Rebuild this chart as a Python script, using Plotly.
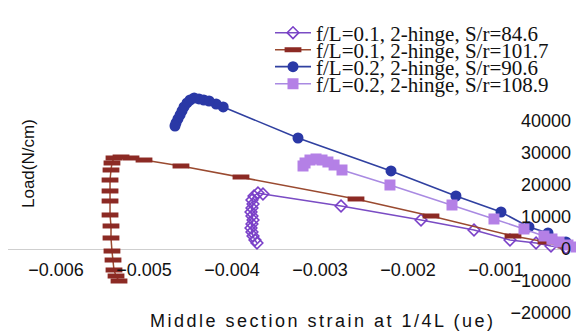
import plotly.graph_objects as go

# ---- data: strain at 1/4L (x) and load in N/cm (y) ----
names = [
    "f/L=0.1, 2-hinge, S/r=84.6",
    "f/L=0.1, 2-hinge, S/r=101.7",
    "f/L=0.2, 2-hinge, S/r=90.6",
    "f/L=0.2, 2-hinge, S/r=108.9",
]

s1_x = [0, -0.000205, -0.000375, -0.000545, -0.000841, -0.00125, -0.001852, -0.002761,
        -0.003648, -0.003705, -0.00375, -0.003773, -0.003761, -0.003773, -0.003784,
        -0.003773, -0.003761, -0.003773, -0.003784, -0.003773, -0.003761, -0.003739, -0.003716]
s1_y = [0, 310, 940, 1880, 2810, 5940, 9060, 13440, 17190, 17500, 16560, 15310, 14060,
        12810, 11560, 10310, 9060, 7810, 6560, 5310, 4060, 2810, 1880]

s2_x = [0, -0.000205, -0.000432, -0.000807, -0.001739, -0.002591, -0.003898, -0.00458,
        -0.005, -0.005148, -0.005261, -0.005341, -0.005364, -0.005375, -0.005386,
        -0.005386, -0.005386, -0.005386, -0.005375, -0.005375, -0.005364, -0.005352,
        -0.005341, -0.005318, -0.005284]
s2_y = [0, 940, 2190, 4060, 10310, 15630, 22500, 25940, 27810, 28440, 28750, 28440, 26880,
        24690, 21560, 18130, 15000, 10630, 7190, 3440, -630, -3440, -6560, -8440, -10000]

s3_x = [0, -0.000205, -0.000409, -0.000625, -0.000943, -0.001455, -0.002193, -0.00325,
        -0.0041, -0.00418, -0.00426, -0.00432, -0.004375, -0.00443, -0.004477, -0.004511,
        -0.004545, -0.004568, -0.00459, -0.004614, -0.004636, -0.004648]
s3_y = [0, 2190, 5000, 6880, 11560, 16560, 24380, 34690, 44380, 45310, 46250, 46560, 46880,
        47190, 46560, 45630, 44380, 43130, 41880, 40630, 39380, 38440]

s4_x = [0, -0.0000909, -0.000182, -0.000284, -0.000364, -0.000455, -0.000682, -0.001023,
        -0.0015, -0.002205, -0.00275, -0.00284, -0.00291, -0.002977, -0.003045, -0.003114,
        -0.00317, -0.003193]
s4_y = [0, 625, 1250, 2190, 3130, 4060, 6250, 9380, 13750, 20000, 24690, 26250, 27190,
        27810, 28130, 27810, 26880, 25940]

x_tick_vals = [-0.006, -0.005, -0.004, -0.003, -0.002, -0.001, 0]
x_tick_text = ["\u22120.006", "\u22120.005", "\u22120.004", "\u22120.003", "\u22120.002", "\u22120.001", "0"]
y_tick_vals = [-20000, -10000, 0, 10000, 20000, 30000, 40000]
y_tick_text = ["\u221220000", "\u221210000", "0", "10000", "20000", "30000", "40000"]

x_title = "Middle section strain at 1/4L (ue)"
y_title = "Load(N/cm)"

W, H = 584, 334
ZERO_PX = 241      # pixel row of load = 0
ZERO_X_PX = 576    # pixel column of strain = 0
PX_PER_N = 0.0032  # pixels per N/cm
PX_PER_STRAIN = 88000.0
LEG_ROWS = [25, 42, 59, 76]  # legend row centres (px from top)

styles = [
    dict(line=dict(color="#7a4cc4", width=1.5),
         marker=dict(symbol="diamond-open", size=9, color="#7a40c8",
                     line=dict(width=1.6, color="#7a40c8"))),
    dict(line=dict(color="#9a4a30", width=1.5),
         marker=dict(symbol="line-ew", size=12, color="#8c2a24",
                     line=dict(width=5, color="#8c2a24"))),
    dict(line=dict(color="#3040a0", width=1.6),
         marker=dict(symbol="circle", size=11, color="#2a38a6")),
    dict(line=dict(color="#a98ae2", width=1.5),
         marker=dict(symbol="square", size=11, color="#b480e6")),
]
series = [(s1_x, s1_y), (s2_x, s2_y), (s3_x, s3_y), (s4_x, s4_y)]
legend_ids = ["legend", "legend2", "legend3", "legend4"]

fig = go.Figure()
for (xs, ys), nm, st, lid in zip(series, names, styles, legend_ids):
    fig.add_trace(go.Scatter(x=xs, y=ys, name=nm, mode="lines+markers",
                             legend=lid, **st))

x0 = -ZERO_X_PX / PX_PER_STRAIN
x1 = (W - ZERO_X_PX) / PX_PER_STRAIN
y_top = ZERO_PX / PX_PER_N
y_bot = -(H - ZERO_PX) / PX_PER_N

legend_common = dict(
    x=262 / W, xanchor="left", yanchor="middle",
    bgcolor="rgba(0,0,0,0)", borderwidth=0, itemwidth=36,
    font=dict(family="Liberation Serif, Times New Roman, serif", size=21, color="#111"),
)

fig.update_layout(
    width=W, height=H,
    margin=dict(l=0, r=0, t=0, b=0),
    paper_bgcolor="white", plot_bgcolor="white",
    showlegend=True,
    legend=dict(y=1 - LEG_ROWS[0] / H, **legend_common),
    legend2=dict(y=1 - LEG_ROWS[1] / H, **legend_common),
    legend3=dict(y=1 - LEG_ROWS[2] / H, **legend_common),
    legend4=dict(y=1 - LEG_ROWS[3] / H, **legend_common),
    xaxis=dict(
        range=[x0, x1], anchor="free", position=(H - ZERO_PX) / H,
        showgrid=False, zeroline=False, showline=False, ticks="",
        tickmode="array", tickvals=x_tick_vals, ticktext=x_tick_text,
        tickfont=dict(family="Liberation Sans, Arial, sans-serif", size=18, color="#111"),
        ticklabelstandoff=8,
    ),
    yaxis=dict(
        range=[y_bot, y_top], anchor="free", position=ZERO_X_PX / W,
        showgrid=False, zeroline=True, zerolinecolor="#cfcfcf", zerolinewidth=1,
        showline=False, ticks="",
        tickmode="array", tickvals=y_tick_vals, ticktext=y_tick_text,
        tickfont=dict(family="Liberation Sans, Arial, sans-serif", size=18, color="#111"),
        ticklabelstandoff=13,
    ),
    annotations=[
        dict(text='<span style="letter-spacing:2.5px">' + x_title + '</span>',
             xref="paper", yref="paper", x=314 / W, y=1 - 313 / H,
             xanchor="center", yanchor="middle", showarrow=False,
             font=dict(family="Liberation Sans, Arial, sans-serif", size=18, color="#111")),
        dict(text=y_title, xref="paper", yref="paper", x=20 / W, y=1 - 156 / H,
             xanchor="center", yanchor="middle", showarrow=False, textangle=-90,
             font=dict(family="Liberation Sans, Arial, sans-serif", size=17, color="#111")),
    ],
)

fig.write_html("out.html")
